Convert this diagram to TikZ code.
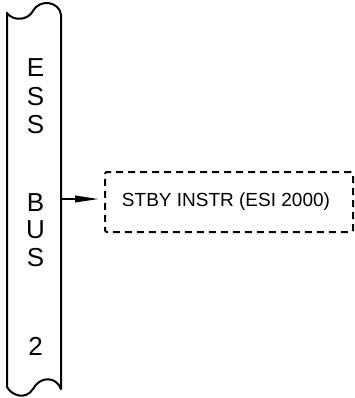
\documentclass[tikz,border=0pt]{standalone}
\usepackage{fontspec}
\setmainfont{Liberation Sans}
\usetikzlibrary{arrows.meta}
\begin{document}
\begin{tikzpicture}[x=1pt,y=-1pt,
  busline/.style={line width=2pt,line join=round},
  busletter/.style={font=\fontsize{26}{26}\selectfont,inner sep=0pt,anchor=center},
  loadbox/.style={draw,dashed,dash pattern=on 7pt off 5pt,line width=2pt,rounded corners=2pt,
    minimum width=248pt,minimum height=60pt,inner sep=0pt,font=\fontsize{19}{19}\selectfont},
  feed/.style={line width=2pt,-{Triangle[length=24pt,width=6.5pt]},shorten >=5pt}]
\useasboundingbox (0,0) rectangle (354,398);
% bus bar
\draw[busline] (61,15) .. controls (60,2) and (40,-2) .. (33,11)
  .. controls (28,20) and (14,22) .. (7,13) -- (7,387)
  .. controls (12,396) and (26,400) .. (33,389)
  .. controls (40,376) and (56,376) .. (61,389) -- cycle;
\node[busletter] (l1) at (35.5,67.5) {E};
\node[busletter] (l2) at (35.5,96.5) {S};
\node[busletter] (l3) at (35.5,125) {S};
\node[busletter] (l4) at (35.5,202.5) {B};
\node[busletter] (l5) at (35.5,230) {U};
\node[busletter] (l6) at (35.5,258) {S};
\node[busletter] (l7) at (35.5,346) {2};
\coordinate (busR) at (61,199);
\node[loadbox] (stby) at (229,202) {\hspace*{-6pt}STBY INSTR (ESI 2000)};
\draw[feed] (busR) -- (busR -| stby.west);
\end{tikzpicture}
\end{document}
